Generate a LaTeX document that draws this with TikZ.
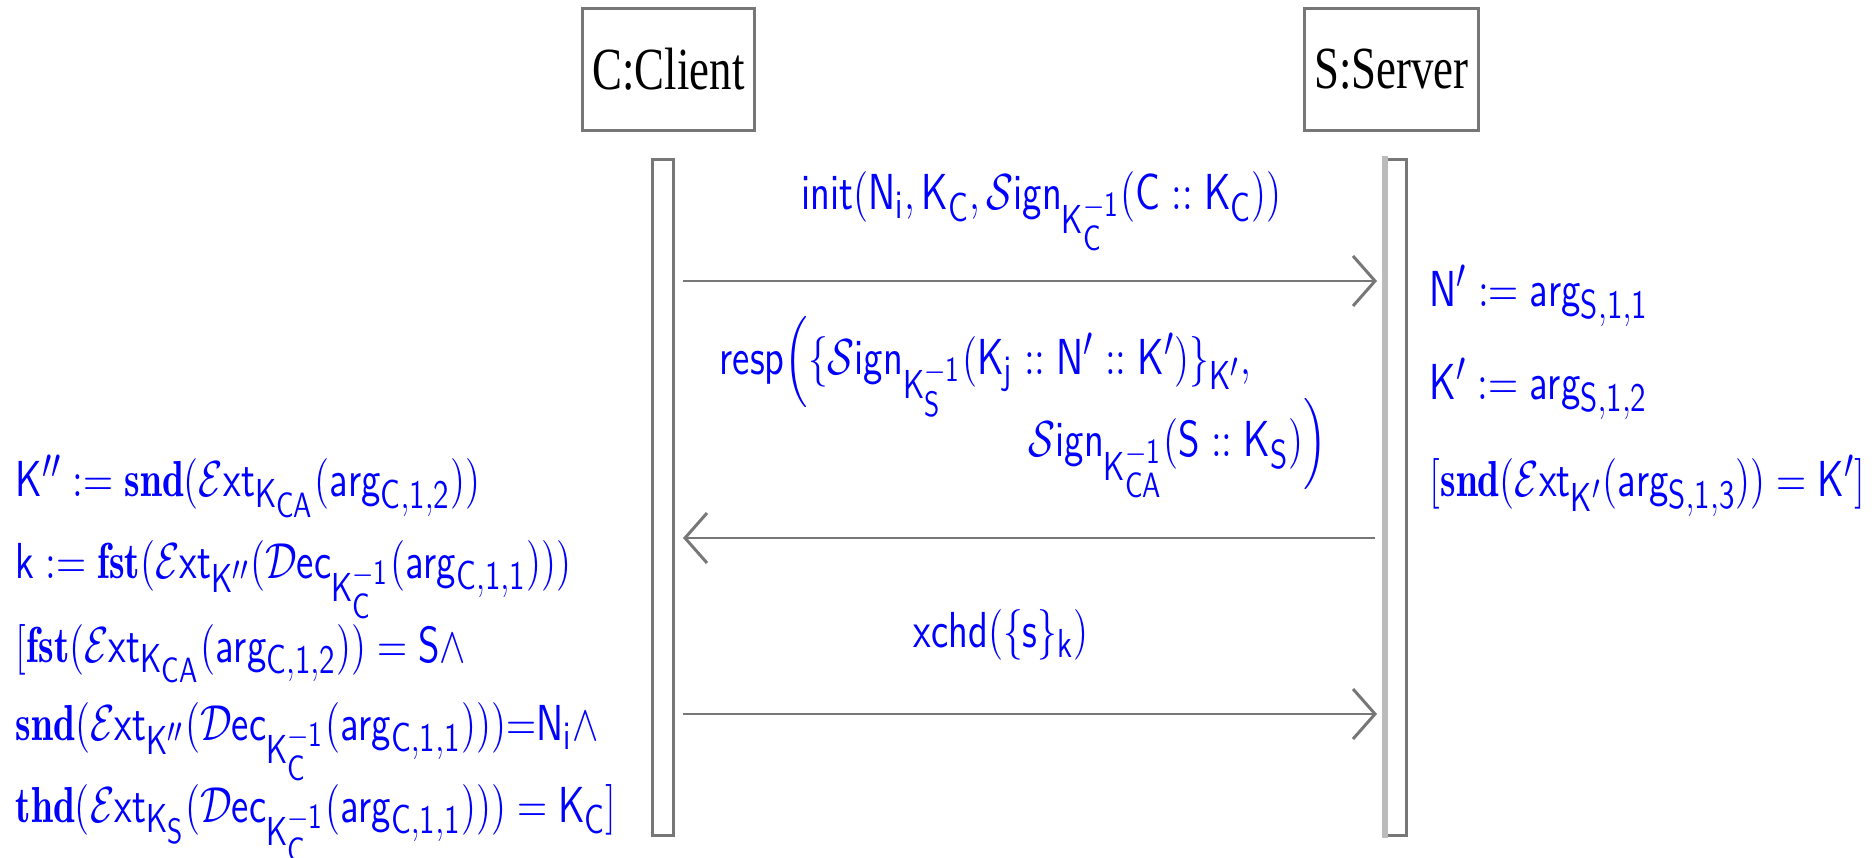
\documentclass[tikz,border=0pt]{standalone}
\usepackage{amsmath}
\usepackage{fontspec}
\newfontfamily\timesfont{Liberation Serif}
\usetikzlibrary{arrows.meta}
\DeclareMathSizes{14.4}{14.4}{11.5}{10}
\definecolor{linegray}{HTML}{777777}
\definecolor{lightbar}{HTML}{BBBBBB}
\definecolor{txtblue}{HTML}{0000FF}
\newcommand{\mytxt}[1]{\scalebox{0.78}[1]{$\mathsf{#1}$}}
\begin{document}
\begin{tikzpicture}[x=1cm,y=1cm,
  boxst/.style={draw=linegray, line width=0.85pt, minimum width=1.72cm, minimum height=1.22cm, inner sep=0, font=\timesfont\fontsize{17}{20}\selectfont},
  barst/.style={draw=linegray, line width=0.85pt, minimum width=0.21cm, minimum height=6.76cm, inner sep=0},
  msg/.style={draw=linegray, line width=0.85pt, -{Straight Barb[length=0.22cm,width=0.5cm]}},
  lbl/.style={text=txtblue, inner sep=0, anchor=base west, font=\fontsize{14.4}{17}\selectfont}]
\useasboundingbox (0,0) rectangle (18.74,-8.58);
% lifeline heads
\node[boxst] (client) at (6.685,-0.695) {\scalebox{0.75}[1]{C:Client}};
\node[boxst, minimum width=1.74cm] (server) at (13.915,-0.695) {\scalebox{0.75}[1]{S:Server}};
% activation bars
\node[barst] (cbar) at (6.63,-4.975) {};
\node[barst, minimum width=0.205cm] (sbar) at (13.9625,-4.975) {};
\draw[lightbar, line width=1.7pt] ([yshift=0.015cm]sbar.north west) -- ([yshift=-0.015cm]sbar.south west);
% message end points
\coordinate (m1s) at (6.83,-2.81);  \coordinate (m1e) at (13.77,-2.81);
\coordinate (m2s) at (13.75,-5.38); \coordinate (m2e) at (6.83,-5.38);
\coordinate (m3s) at (6.83,-7.14);  \coordinate (m3e) at (13.77,-7.14);
\draw[msg] (m1s) -- (m1e);
\draw[msg] (m2s) -- (m2e);
\draw[msg] (m3s) -- (m3e);
% message labels
\node[lbl] (l1) at (8.01,-2.10) {\mytxt{init(N_i, K_C, \mathcal{S}ign_{K_C^{-1}}(C \mathrel{::} K_C))}};
\node[lbl] (l2a) at (7.19,-3.75) {\mytxt{resp\Bigl(\{\mathcal{S}ign_{K_S^{-1}}(K_j \mathrel{::} N' \mathrel{::} K')\}_{K'},}};
\node[lbl] (l2b) at (10.28,-4.57) {\mytxt{\mathcal{S}ign_{K_{CA}^{-1}}(S \mathrel{::} K_S)\Bigr)}};
\node[lbl] (l3) at (9.13,-6.47) {\mytxt{xchd(\{s\}_k)}};
% server side
\node[lbl] (r1) at (14.29,-3.07) {\mytxt{N' \mathrel{:=} arg_{S,1,1}}};
\node[lbl] (r2) at (14.29,-4.00) {\mytxt{K' \mathrel{:=} arg_{S,1,2}}};
\node[lbl] (r3) at (14.29,-4.97) {\mytxt{[\mathbf{snd}(\mathcal{E}xt_{K'}(arg_{S,1,3})) = K']}};
% client side
\node[lbl] (c1) at (0.15,-4.97) {\mytxt{K'' \mathrel{:=} \mathbf{snd}(\mathcal{E}xt_{K_{CA}}(arg_{C,1,2}))}};
\node[lbl] (c2) at (0.15,-5.78) {\mytxt{k \mathrel{:=} \mathbf{fst}(\mathcal{E}xt_{K''}(\mathcal{D}ec_{K_C^{-1}}(arg_{C,1,1})))}};
\node[lbl] (c3) at (0.15,-6.62) {\mytxt{[\mathbf{fst}(\mathcal{E}xt_{K_{CA}}(arg_{C,1,2})) = S\wedge}};
\node[lbl] (c4) at (0.15,-7.40) {\mytxt{\mathbf{snd}(\mathcal{E}xt_{K''}(\mathcal{D}ec_{K_C^{-1}}(arg_{C,1,1}))){=}N_i\wedge}};
\node[lbl] (c5) at (0.15,-8.22) {\mytxt{\mathbf{thd}(\mathcal{E}xt_{K_S}(\mathcal{D}ec_{K_C^{-1}}(arg_{C,1,1}))) = K_C]}};
\end{tikzpicture}
\end{document}
